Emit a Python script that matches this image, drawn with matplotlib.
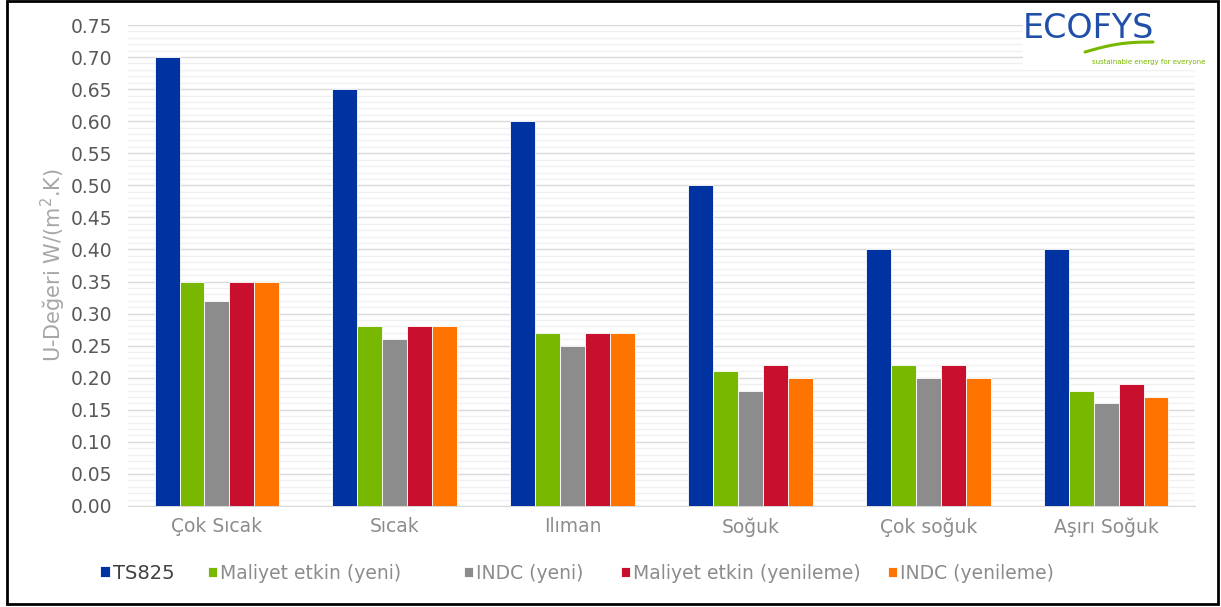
import numpy as np
import matplotlib.pyplot as plt
from matplotlib.patches import Rectangle
from matplotlib.ticker import MultipleLocator

# İklim bölgelerine göre U-değerleri
bolgeler = ["Çok Sıcak", "Sıcak", "Ilıman", "Soğuk", "Çok soğuk", "Aşırı Soğuk"]
seriler = ["TS825", "Maliyet etkin (yeni)", "INDC (yeni)",
           "Maliyet etkin (yenileme)", "INDC (yenileme)"]

ts825 = [0.70, 0.65, 0.60, 0.50, 0.40, 0.40]
maliyet_yeni = [0.35, 0.28, 0.27, 0.21, 0.22, 0.18]
indc_yeni = [0.32, 0.26, 0.25, 0.18, 0.20, 0.16]
maliyet_yenileme = [0.35, 0.28, 0.27, 0.22, 0.22, 0.19]
indc_yenileme = [0.35, 0.28, 0.27, 0.20, 0.20, 0.17]

renkler = ["#0033a1", "#78b800", "#8c8c8c", "#c8102e", "#ff7300"]

degerler = [ts825, maliyet_yeni, indc_yeni, maliyet_yenileme, indc_yenileme]

plt.rcParams["font.family"] = "DejaVu Sans"

fig = plt.figure(figsize=(12.21, 6.07), dpi=100)
ax = fig.add_axes([0.1048, 0.1664, 0.874, 0.7924])

x = np.arange(len(bolgeler))
w = 0.14
cubuklar = []
for i, (ad, vals, c) in enumerate(zip(seriler, degerler, renkler)):
    b = ax.bar(x + (i - 2) * w, vals, w, color=c, label=ad,
               edgecolor="white", linewidth=0.6, zorder=3)
    cubuklar.append(b)

ax.set_xlim(-0.5, len(bolgeler) - 0.5)
ax.set_ylim(0, 0.75)
ax.yaxis.set_major_locator(MultipleLocator(0.05))
ax.yaxis.set_minor_locator(MultipleLocator(0.01))
ax.yaxis.set_major_formatter(lambda v, p: f"{v:.2f}")
ax.grid(axis="y", which="major", color="#d9d9d9", linewidth=1.0, zorder=0)
ax.grid(axis="y", which="minor", color="#f0f0f0", linewidth=1.0, zorder=0)
ax.set_axisbelow(True)

for s in ["left", "right", "top"]:
    ax.spines[s].set_visible(False)
ax.spines["bottom"].set_color("#d9d9d9")

ax.set_xticks(x)
ax.set_xticklabels(bolgeler, fontsize=13.5, color="#8c8c8c")
ax.tick_params(axis="x", length=0, pad=8)
ax.tick_params(axis="y", which="both", length=0, pad=11, labelsize=13.5,
               labelcolor="#595959")

ax.set_ylabel("U-Değeri W/(m$^2$.K)", fontsize=15, color="#a6a6a6", labelpad=2)

# lejant: her seri ayrı konumda
lejant_x = [100, 208, 464, 621, 888]
for j, (b, ad) in enumerate(zip(cubuklar, seriler)):
    leg = fig.legend(handles=[b], labels=[ad], loc="center left",
                     bbox_to_anchor=(lejant_x[j] / 1221, 0.056), frameon=False,
                     fontsize=14 if j == 0 else 13.5, handlelength=0.5,
                     handleheight=0.5, handletextpad=0.15, borderpad=0,
                     borderaxespad=0)
    leg.get_texts()[0].set_color("#404040" if j == 0 else "#8c8c8c")

# logo alanı
fig.patches.append(Rectangle((1023 / 1221, 1 - 70 / 607), 192 / 1221, 62 / 607,
                             transform=fig.transFigure, facecolor="white",
                             edgecolor="none", zorder=5))
fig.text(1088 / 1221, 1 - 29 / 607, "ECOFYS", fontsize=24, color="#1f4fa8",
         ha="center", va="center", zorder=6)
t = np.linspace(0, 1, 50)
sx = (1085 + 68 * t) / 1221
sy = 1 - (52 - 10 * t - 3 * np.sin(np.pi * t)) / 607
fig.lines.append(plt.Line2D(sx, sy, transform=fig.transFigure, color="#78b800",
                            linewidth=2.2, solid_capstyle="round", zorder=6))
fig.text(1149 / 1221, 1 - 62 / 607, "sustainable energy for everyone", fontsize=5,
         color="#78b800", ha="center", va="center", zorder=6)

# çerçeve
fig.patches.append(Rectangle((7 / 1221, 3 / 607), 1211 / 1221, 603 / 607,
                             transform=fig.transFigure, fill=False,
                             edgecolor="black", linewidth=2.0, zorder=10))

fig.savefig("out.png", dpi=100)
